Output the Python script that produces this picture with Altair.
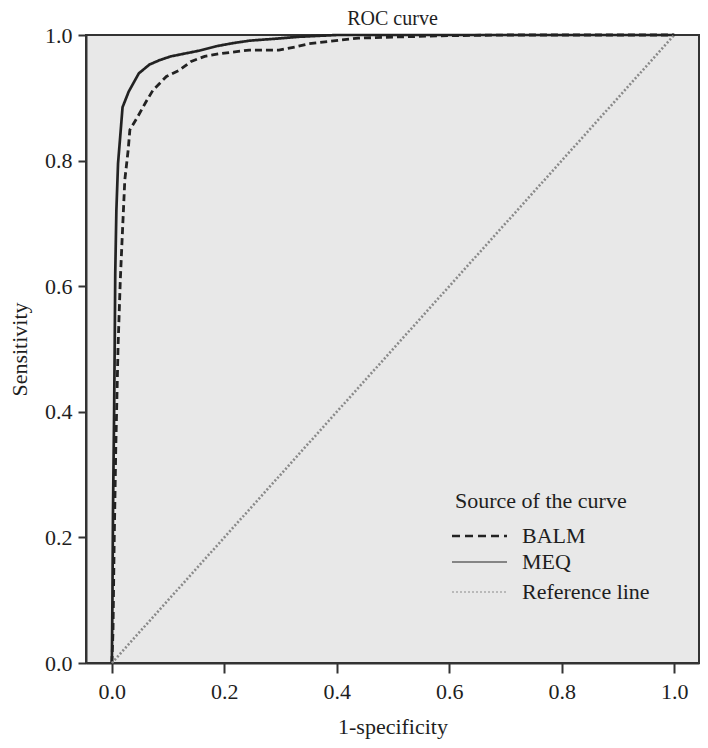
import altair as alt
import pandas as pd

# MEQ (solid) curve points
meq_x = [0.0, 0.001, 0.002, 0.004, 0.005, 0.006, 0.008, 0.011, 0.015, 0.019, 0.03, 0.048,
         0.067, 0.085, 0.105, 0.155, 0.185, 0.215, 0.245, 0.29, 0.33, 0.4, 1.0]
meq_y = [0.0, 0.1, 0.24, 0.4, 0.5, 0.62, 0.72, 0.796, 0.84, 0.885, 0.91, 0.939,
         0.953, 0.96, 0.966, 0.975, 0.982, 0.987, 0.991, 0.994, 0.997, 1.0, 1.0]

# BALM (dashed) curve points
balm_x = [0.0, 0.002, 0.004, 0.007, 0.011, 0.015, 0.019, 0.023, 0.029, 0.032, 0.046, 0.061,
          0.073, 0.097, 0.12, 0.141, 0.165, 0.19, 0.244, 0.297, 0.326, 0.35, 0.379, 0.408,
          0.438, 0.51, 0.6, 0.7, 1.0]
balm_y = [0.0, 0.05, 0.185, 0.344, 0.504, 0.61, 0.69, 0.769, 0.817, 0.849, 0.87, 0.894,
          0.912, 0.934, 0.944, 0.958, 0.966, 0.97, 0.976, 0.976, 0.981, 0.986, 0.989, 0.992,
          0.995, 0.997, 0.999, 1.0, 1.0]

# Reference line
ref_x = [0.0, 1.0]
ref_y = [0.0, 1.0]

series = ["BALM", "MEQ", "Reference line"]
legend_title = "Source of the curve"
tick_values = [0.0, 0.2, 0.4, 0.6, 0.8, 1.0]

rows = []
for name, xs, ys in [("BALM", balm_x, balm_y), ("MEQ", meq_x, meq_y), ("Reference line", ref_x, ref_y)]:
    for i, (a, b) in enumerate(zip(xs, ys)):
        rows.append({"series": name, "order": i, "fpr": a, "tpr": b})
df = pd.DataFrame(rows)

FONT = "Liberation Serif"
FS = 22
INK = "#1e1e1e"

dash_range = [[7, 4], [1, 0], [2, 2]]
color_range = ["#222222", "#222222", "#8a8a8a"]
width_range = [2.8, 2.6, 1.5]

lines = alt.Chart(df).mark_line().encode(
    x=alt.X("fpr:Q", title="1-specificity",
            scale=alt.Scale(domain=[-0.046, 1.044], nice=False, zero=False),
            axis=alt.Axis(values=tick_values, format=".1f", grid=False, tickSize=10,
                          labelPadding=8, titlePadding=14)),
    y=alt.Y("tpr:Q", title="Sensitivity",
            scale=alt.Scale(domain=[0, 1], nice=False),
            axis=alt.Axis(values=tick_values, format=".1f", grid=False, tickSize=8,
                          labelPadding=6, titlePadding=13)),
    order="order:Q",
    color=alt.Color("series:N", scale=alt.Scale(domain=series, range=color_range), legend=None),
    strokeDash=alt.StrokeDash("series:N", scale=alt.Scale(domain=series, range=dash_range), legend=None),
    strokeWidth=alt.StrokeWidth("series:N", scale=alt.Scale(domain=series, range=width_range), legend=None),
)

# Hand-made legend (inside the plot, lower right)
leg_x0, leg_x1, leg_text_x = 366, 421, 436
row_y = [501, 527, 557]
sample_dash = [[8, 5], [1, 0], [2, 2]]
sample_width = [2.6, 1.2, 1.2]
sample_color = ["#222222", "#222222", "#8a8a8a"]

legend_layers = [
    alt.Chart(pd.DataFrame({"t": [legend_title]})).mark_text(
        font=FONT, fontSize=FS, color=INK, align="left", baseline="middle"
    ).encode(x=alt.value(369), y=alt.value(466), text="t:N")
]
for i, name in enumerate(series):
    d = pd.DataFrame({"label": [name]})
    legend_layers.append(
        alt.Chart(d).mark_rule(strokeDash=sample_dash[i], strokeWidth=sample_width[i], color=sample_color[i])
        .encode(x=alt.value(leg_x0), x2=alt.value(leg_x1), y=alt.value(row_y[i]))
    )
    legend_layers.append(
        alt.Chart(d).mark_text(font=FONT, fontSize=FS, color=INK, align="left", baseline="middle")
        .encode(x=alt.value(leg_text_x), y=alt.value(row_y[i]), text="label:N")
    )

chart = alt.layer(lines, *legend_layers).properties(
    width=613, height=628,
    title=alt.TitleParams("ROC curve", font=FONT, fontSize=20, fontWeight="normal", color=INK,
                          frame="group", offset=-5),
    autosize=alt.AutoSizeParams(type="none"),
    padding={"left": 78, "top": 27, "right": 1, "bottom": 77},
).configure_view(
    fill="#e8e8e8", stroke="#333333", strokeWidth=2
).configure_axis(
    labelFont=FONT, titleFont=FONT, labelFontSize=FS, titleFontSize=FS,
    labelColor=INK, titleColor=INK, titleFontWeight="normal",
    domainColor="#333333", domainWidth=2, tickColor="#333333", tickWidth=2
)

chart.save("out.html", embed_options={"renderer": "svg", "actions": False})
